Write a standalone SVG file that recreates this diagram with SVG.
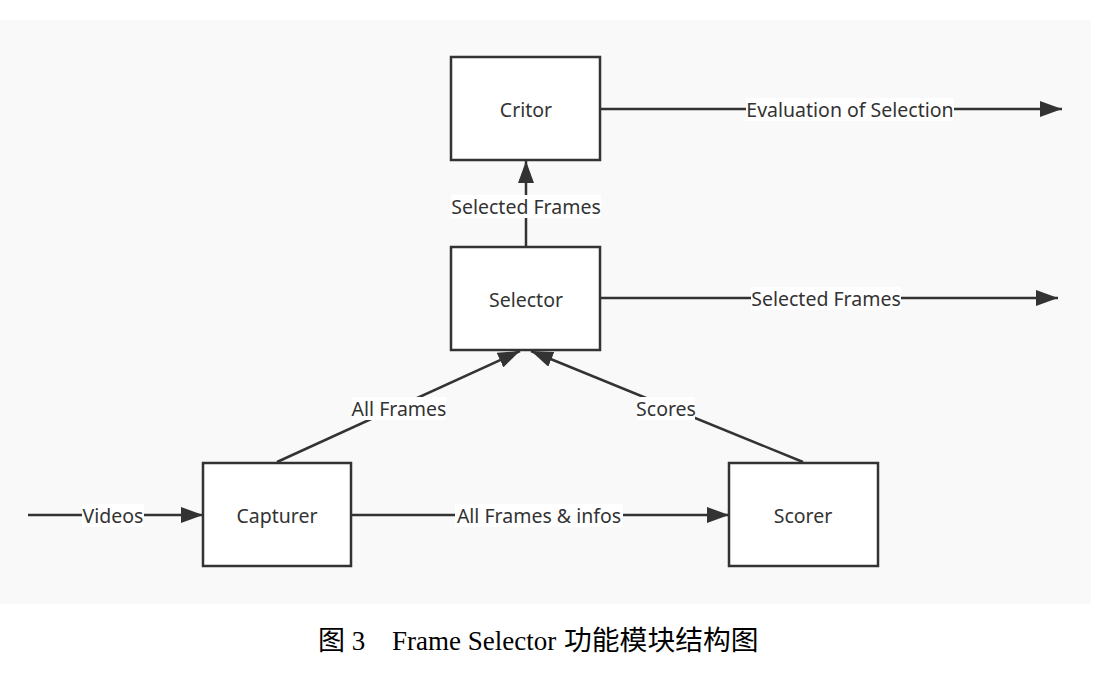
<svg xmlns="http://www.w3.org/2000/svg" width="1116" height="684" viewBox="0 0 1116 684">
<defs>
<marker id="ah" viewBox="0 0 22 16" refX="22" refY="8" markerWidth="22" markerHeight="16" markerUnits="userSpaceOnUse" orient="auto">
<path d="M0,0 L22,8 L0,16 Z" fill="#333"/>
</marker>
<style>
.box{fill:#fff;stroke:#333;stroke-width:2.5}
.t{font-family:"Noto Sans","Open Sans",sans-serif;font-size:19.5px;fill:#333;text-anchor:middle;dominant-baseline:central}
.line{stroke:#333;stroke-width:2.5;fill:none}
.lbl{fill:#fff}
.cap{font-family:"Liberation Serif","Noto Sans CJK SC",serif;font-size:27px;fill:#000}
.cjk{font-size:27.8px}
</style>
</defs>
<rect x="0" y="20" width="1091" height="584" fill="#f9f9f9"/>
<g id="connectors">
<line class="line" x1="28" y1="515" x2="203" y2="515" marker-end="url(#ah)"/>
<line class="line" x1="351" y1="515" x2="729" y2="515" marker-end="url(#ah)"/>
<line class="line" x1="277" y1="462" x2="520" y2="351" marker-end="url(#ah)"/>
<line class="line" x1="803" y1="462" x2="531" y2="351" marker-end="url(#ah)"/>
<line class="line" x1="526" y1="246" x2="526" y2="161" marker-end="url(#ah)"/>
<line class="line" x1="600" y1="298" x2="1058" y2="298" marker-end="url(#ah)"/>
<line class="line" x1="600" y1="109" x2="1062" y2="109" marker-end="url(#ah)"/>
<rect class="lbl" x="82" y="504" width="62" height="23"/>
<text class="t" x="113" y="515">Videos</text>
<rect class="lbl" x="455" y="504" width="168" height="23"/>
<text class="t" x="539" y="515">All Frames &amp; infos</text>
<rect class="lbl" x="352" y="397" width="94" height="23"/>
<text class="t" x="399" y="408">All Frames</text>
<rect class="lbl" x="637" y="397" width="58" height="23"/>
<text class="t" x="666" y="408">Scores</text>
<rect class="lbl" x="451" y="195" width="150" height="23"/>
<text class="t" x="526" y="206">Selected Frames</text>
<rect class="lbl" x="751" y="287" width="150" height="23"/>
<text class="t" x="826" y="298">Selected Frames</text>
<rect class="lbl" x="746" y="98" width="208" height="23"/>
<text class="t" x="850" y="109">Evaluation of Selection</text>
</g>
<g id="critor"><rect class="box" x="451" y="57" width="149" height="103"/><text class="t" x="526" y="109">Critor</text></g>
<g id="selector"><rect class="box" x="451" y="247" width="149" height="103"/><text class="t" x="526" y="299">Selector</text></g>
<g id="capturer"><rect class="box" x="203" y="463" width="148" height="103"/><text class="t" x="277" y="515">Capturer</text></g>
<g id="scorer"><rect class="box" x="729" y="463" width="149" height="103"/><text class="t" x="803" y="515">Scorer</text></g>
<text class="cap" y="650"><tspan x="318">图 3</tspan><tspan x="392">Frame Selector </tspan><tspan x="564" class="cjk">功能模块结构图</tspan></text>
</svg>
